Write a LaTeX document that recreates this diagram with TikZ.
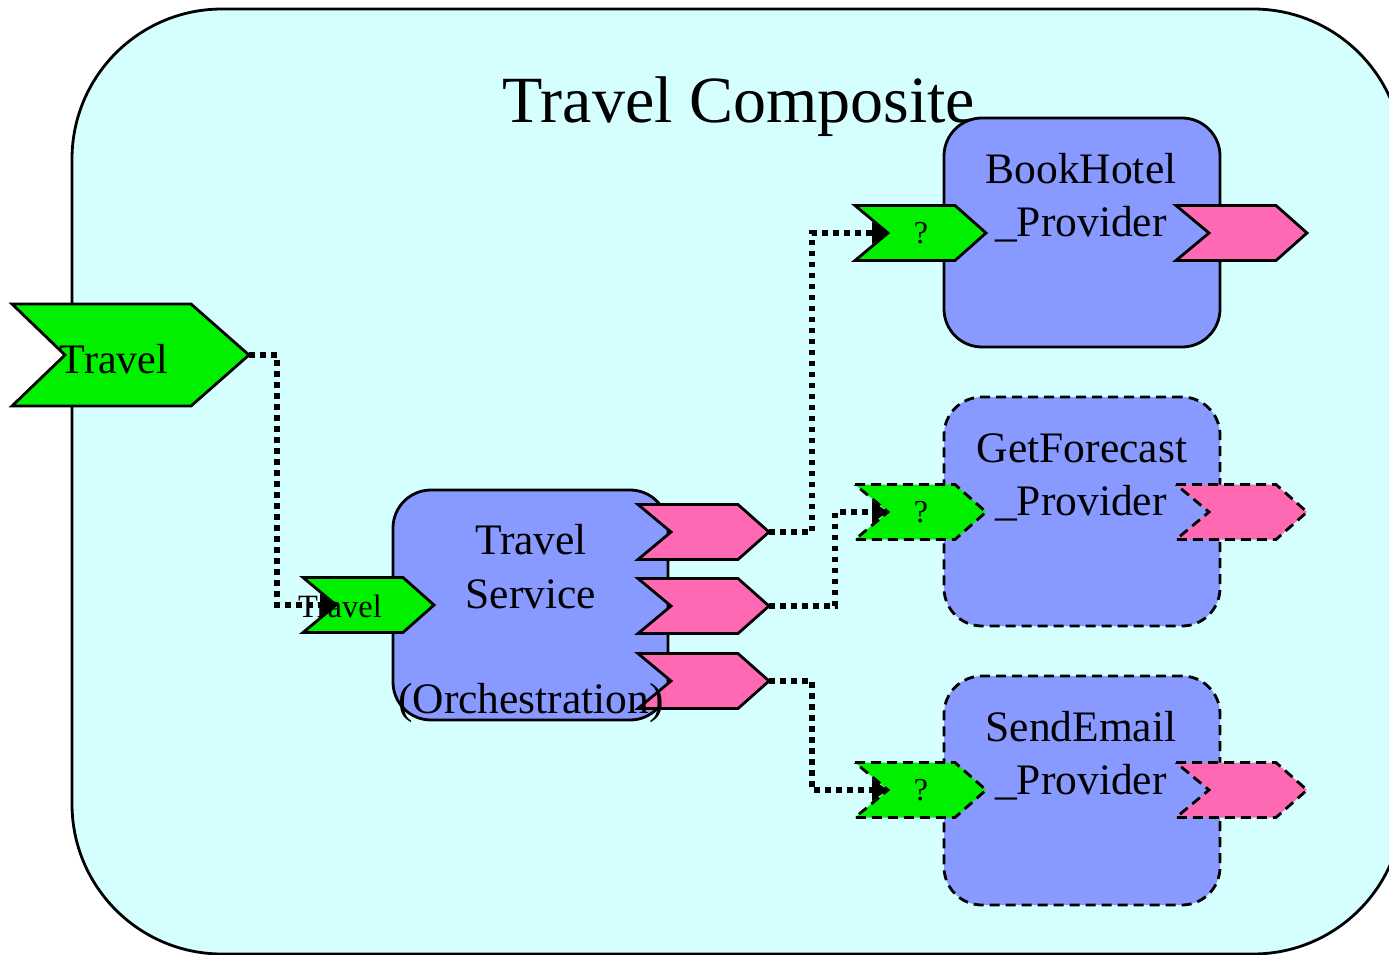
\documentclass[tikz,border=0pt]{standalone}
\usepackage{fontspec}
\setmainfont{Liberation Serif}
\usetikzlibrary{arrows.meta}
\definecolor{compfill}{RGB}{213,255,255}
\definecolor{boxfill}{RGB}{136,153,255}
\definecolor{portgreen}{RGB}{0,240,0}
\definecolor{portpink}{RGB}{255,105,180}
\tikzset{
  comp/.style={draw, line width=2.8pt, fill=compfill, rounded corners=150pt, inner sep=0pt},
  svcbox/.style={draw, line width=2.8pt, fill=boxfill, rounded corners=38pt, inner sep=0pt},
  dashbox/.style={svcbox, dash pattern=on 10pt off 6pt},
  portg/.style={draw, line width=2.8pt, fill=portgreen},
  portgd/.style={portg, dash pattern=on 10pt off 6pt},
  portp/.style={draw, line width=2.8pt, fill=portpink},
  portpd/.style={portp, dash pattern=on 10pt off 6pt},
  wire/.style={line width=5.5pt, dash pattern=on 5.5pt off 5.5pt, -{Triangle[length=16pt,width=21pt]}},
  lbl/.style={anchor=base, inner sep=0pt, font=\fontsize{43.5}{50}\selectfont},
  qlbl/.style={anchor=center, inner sep=0pt, font=\fontsize{32}{36}\selectfont},
}
\newcommand{\smallport}[4]{%
  \draw[#4] (#2,#3-27.5) -- (#2+100,#3-27.5) -- (#2+131,#3) -- (#2+100,#3+27.5) -- (#2,#3+27.5) -- (#2+33,#3) -- cycle;
  \coordinate (#1-tip) at (#2+131,#3);
  \coordinate (#1-notch) at (#2+33,#3);
  \coordinate (#1-c) at (#2+66,#3);
}
\begin{document}
\begin{tikzpicture}[x=1pt,y=-1pt]
\useasboundingbox (0,0) rectangle (1389,955);
\clip (0,0) rectangle (1389,955);
% composite
\node[comp, minimum width=1331pt, minimum height=945pt] (composite) at (737.5,481.5) {};
\node[anchor=base, inner sep=0pt, font=\fontsize{66}{70}\selectfont] (title) at (739,123) {Travel Composite};
% boxes
\node[svcbox, minimum width=275pt, minimum height=230pt] (svc) at (530.5,605) {};
\node[svcbox, minimum width=276pt, minimum height=229pt] (bh) at (1082,232.5) {};
\node[dashbox, minimum width=276pt, minimum height=229pt] (gf) at (1082,511.5) {};
\node[dashbox, minimum width=276pt, minimum height=229pt] (se) at (1082,790.5) {};
% big Travel port
\draw[portg] (12,304) -- (191,304) -- (249,355) -- (191,406) -- (12,406) -- (65,355) -- cycle;
\coordinate (bigtravel-tip) at (249,355);
% small ports
\smallport{svcin}{303}{605}{portg}
\smallport{out1}{638}{532}{portp}
\smallport{out2}{638}{606}{portp}
\smallport{out3}{638}{681}{portp}
\smallport{bhin}{855}{233}{portg}
\smallport{bhout}{1176}{233}{portp}
\smallport{gfin}{855}{512}{portgd}
\smallport{gfout}{1176}{512}{portpd}
\smallport{sein}{855}{790}{portgd}
\smallport{seout}{1176}{790}{portpd}
% labels
\node[anchor=base, inner sep=0pt, font=\fontsize{42}{45}\selectfont] (bigtravel) at (114,373) {Travel};
\node[anchor=base, inner sep=0pt, font=\fontsize{32.5}{36}\selectfont] (svcinlbl) at (340,617) {Travel};
\node[lbl] (svc1) at (531,554) {Travel};
\node[lbl] (svc2) at (531,608) {Service};
\node[lbl] (svc3) at (531,713) {(Orchestration)};
\node[lbl] (bh1) at (1081,183) {BookHotel};
\node[lbl] (bh2) at (1081,236) {\_Provider};
\node[lbl] (gf1) at (1082,462) {GetForecast};
\node[lbl] (gf2) at (1081,515) {\_Provider};
\node[lbl] (se1) at (1081,741) {SendEmail};
\node[lbl] (se2) at (1081,794) {\_Provider};
\node[qlbl] (bhq) at (bhin-c) {?};
\node[qlbl] (gfq) at (gfin-c) {?};
\node[qlbl] (seq) at (sein-c) {?};
% wires
\draw[wire] (bigtravel-tip) -- (277,355) -- (277,605) -- (svcin-notch);
\draw[wire] (out1-tip) -- (812,532) -- (812,233) -- (bhin-notch);
\draw[wire] (out2-tip) -- (835,606) -- (835,512) -- (gfin-notch);
\draw[wire] (out3-tip) -- (812,681) -- (812,790) -- (sein-notch);
\end{tikzpicture}
\end{document}
